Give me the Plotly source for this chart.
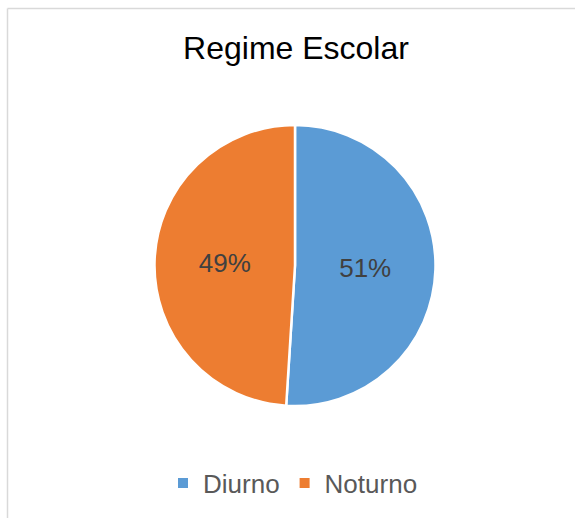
import plotly.graph_objects as go

W, H = 575, 518
categories = ["Diurno", "Noturno"]
values = [51, 49]
colors = ["#5B9BD5", "#ED7D31"]
title = "Regime Escolar"

fig = go.Figure(go.Pie(
    labels=categories,
    values=values,
    marker=dict(colors=colors, line=dict(color="white", width=2.5)),
    sort=False,
    direction="clockwise",
    rotation=0,
    textinfo="percent",
    texttemplate="%{percent:.0%}",
    textposition="inside",
    insidetextorientation="horizontal",
    textfont=dict(family="Liberation Sans, Arial", size=26, color="#404040"),
    domain=dict(x=[154 / W, 436 / W], y=[1 - 406 / H, 1 - 125 / H]),
    hoverinfo="label+percent",
))

fig.update_layout(
    width=W, height=H,
    margin=dict(l=0, r=0, t=0, b=0),
    paper_bgcolor="white",
    plot_bgcolor="white",
    font=dict(family="Liberation Sans, Arial"),
    title=dict(text=title, x=296 / W, xanchor="center", y=1 - 48 / H, yanchor="middle",
               font=dict(family="Liberation Sans, Arial", size=32, color="#000000")),
    showlegend=True,
    legend=dict(orientation="h", x=293 / W, xanchor="center", y=1 - 483 / H, yanchor="middle",
                font=dict(family="Liberation Sans, Arial", size=26, color="#595959"),
                itemsizing="constant", traceorder="normal"),
    shapes=[
        dict(type="line", xref="paper", yref="paper", x0=7.5 / W, x1=1.0, y0=1 - 8.5 / H, y1=1 - 8.5 / H,
             line=dict(color="#D9D9D9", width=1.5)),
        dict(type="line", xref="paper", yref="paper", x0=7.5 / W, x1=7.5 / W, y0=0, y1=1 - 8.5 / H,
             line=dict(color="#D9D9D9", width=1.5)),
    ],
)

fig.write_html("out.html")
